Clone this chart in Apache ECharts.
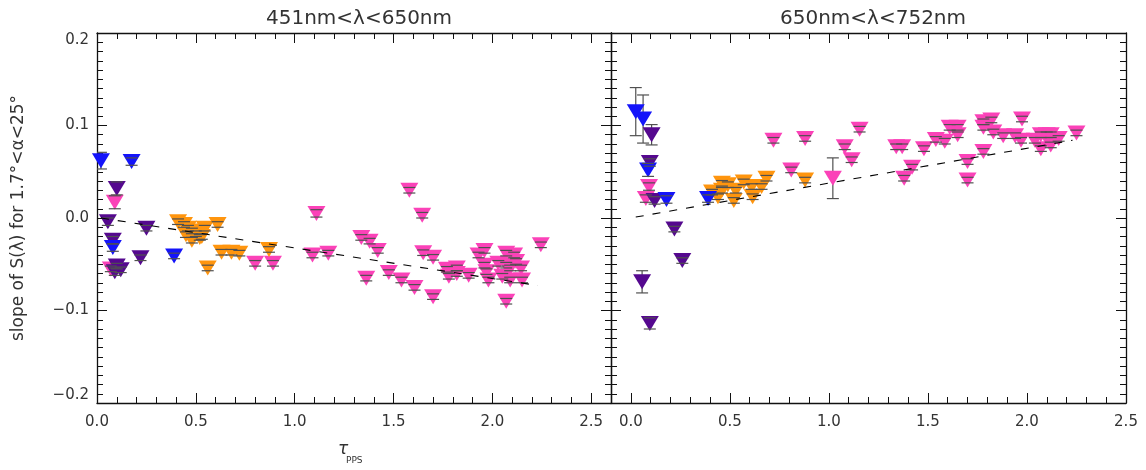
<!DOCTYPE html>
<html><head><meta charset="utf-8">
<script src="https://cdn.jsdelivr.net/npm/echarts@6/dist/echarts.min.js"></script>
<style>html,body{margin:0;padding:0;background:#fff}#c{width:1146px;height:470px}</style>
</head><body><div id="c"></div>
<script>
// ---------------- data ----------------
const panelTitles = ['451nm<λ<650nm', '650nm<λ<752nm'];
const yAxisTitle = 'slope of S(λ) for 1.7°<α<25°';
const xRanges = [[0, 2.6], [-0.1, 2.5]];
const xMajorTicks = [0, 0.5, 1.0, 1.5, 2.0, 2.5];
const yRange = [-0.2, 0.2];

// each point: [tau_PPS, slope, error]
const blueL = [[0.02,0.062,0.009],[0.175,0.061,0.004],[0.08,-0.032,0.004],[0.39,-0.041,0.003]];
const purpleL = [[0.10,0.032,0.007],[0.055,-0.004,0.004],[0.25,-0.011,0.003],[0.08,-0.024,0.004],
  [0.09,-0.058,0.004],[0.12,-0.056,0.003],[0.22,-0.043,0.003],[0.10,-0.052,0.003]];
const pinkL = [[0.09,0.017,0.007],[0.07,-0.055,0.003],[0.80,-0.049,0.003],[0.89,-0.049,0.003],
  [1.11,0.005,0.004],[1.09,-0.040,0.003],[1.17,-0.038,0.003],
  [1.58,0.030,0.003],[1.645,0.003,0.003],[1.337,-0.021,0.003],[1.379,-0.025,0.003],[1.42,-0.035,0.003],
  [1.362,-0.065,0.003],[1.476,-0.059,0.003],[1.54,-0.067,0.003],[1.606,-0.075,0.003],[1.65,-0.0375,0.003],
  [1.70,-0.0425,0.003],[1.70,-0.085,0.003],[1.77,-0.0555,0.003],[1.82,-0.054,0.003],[1.78,-0.063,0.003],
  [1.82,-0.060,0.003],[1.88,-0.062,0.003],[1.93,-0.040,0.003],[1.96,-0.035,0.003],[1.96,-0.051,0.003],
  [1.97,-0.058,0.003],[1.98,-0.067,0.003],[2.03,-0.049,0.003],[2.07,-0.038,0.003],[2.11,-0.040,0.003],
  [2.05,-0.063,0.003],[2.09,-0.054,0.003],[2.09,-0.067,0.003],[2.145,-0.054,0.003],[2.15,-0.067,0.003],
  [2.07,-0.090,0.003],[2.245,-0.029,0.003],[2.07,-0.051,0.003],[2.12,-0.047,0.003]];
const orangeL = [[0.41,-0.004,0.003],[0.44,-0.007,0.003],[0.46,-0.011,0.003],[0.48,-0.014,0.003],
  [0.50,-0.017,0.003],[0.45,-0.018,0.003],[0.52,-0.021,0.003],[0.48,-0.024,0.003],[0.545,-0.011,0.003],
  [0.61,-0.007,0.003],[0.53,-0.020,0.003],[0.56,-0.054,0.003],[0.63,-0.037,0.003],[0.68,-0.037,0.003],
  [0.72,-0.038,0.003],[0.87,-0.034,0.003]];

const blueR = [[0.025,0.115,0.026],[0.062,0.107,0.026],[0.087,0.052,0.007],[0.18,0.020,0.004],[0.39,0.021,0.004]];
const purpleR = [[0.105,0.090,0.011],[0.096,0.060,0.004],[0.12,0.019,0.004],[0.22,-0.012,0.003],
  [0.26,-0.046,0.003],[0.057,-0.069,0.012],[0.096,-0.114,0.006]];
const pinkR = [[0.092,0.034,0.004],[0.076,0.021,0.004],[0.72,0.084,0.003],[0.88,0.086,0.003],[0.81,0.052,0.003],
  [1.02,0.043,0.022],[1.08,0.077,0.003],[1.115,0.063,0.003],[1.155,0.096,0.003],
  [1.34,0.077,0.003],[1.37,0.077,0.003],[1.48,0.075,0.003],[1.38,0.043,0.003],[1.42,0.055,0.003],
  [1.54,0.085,0.003],[1.585,0.083,0.003],[1.61,0.098,0.003],[1.65,0.098,0.003],[1.65,0.090,0.003],
  [1.70,0.061,0.003],[1.70,0.041,0.003],[1.78,0.072,0.003],[1.78,0.104,0.003],[1.82,0.106,0.003],
  [1.78,0.098,0.003],[1.83,0.093,0.003],[1.88,0.089,0.003],[1.94,0.089,0.003],[1.97,0.084,0.003],
  [1.975,0.107,0.003],[2.04,0.084,0.003],[2.07,0.090,0.003],[2.10,0.090,0.003],[2.12,0.090,0.003],
  [2.16,0.086,0.003],[2.07,0.075,0.003],[2.12,0.079,0.003],[2.25,0.092,0.003]];
const orangeR = [[0.41,0.028,0.003],[0.44,0.023,0.003],[0.46,0.0375,0.003],[0.49,0.036,0.003],[0.46,0.030,0.003],
  [0.52,0.019,0.003],[0.53,0.030,0.003],[0.57,0.039,0.003],[0.61,0.034,0.003],[0.615,0.023,0.003],
  [0.66,0.034,0.003],[0.685,0.043,0.003],[0.88,0.041,0.003]];

const fitL = [[0.02, 0.0], [2.23, -0.073]];
const fitR = [[0.025, 0.001], [2.23, 0.084]];

const colors = { blue: '#1414fa', purple: '#55088f', pink: '#fb42b8', orange: '#ff950e' };
const panels = [
  { sets: [['pink', pinkL], ['orange', orangeL], ['purple', purpleL], ['blue', blueL]], fit: fitL },
  { sets: [['pink', pinkR], ['orange', orangeR], ['purple', purpleR], ['blue', blueR]], fit: fitR }
];

// ---------------- chart ----------------
const FONT = 'DejaVu Sans';
const AX = '#111';
const grids = [
  { left: 97, top: 33, width: 514, height: 370 },
  { left: 611, top: 33, width: 515, height: 370 }
];

function minorList(r) {
  const out = [];
  for (let v = Math.round(r[0] * 10); v <= Math.round(r[1] * 10); v++) out.push(v / 10);
  return out;
}

const xAxis = [], yAxis = [];
grids.forEach((g, gi) => {
  const r = xRanges[gi];
  const base = { type: 'value', gridIndex: gi, min: r[0], max: r[1], splitLine: { show: false } };
  const line = { show: true, onZero: false, lineStyle: { color: AX, width: 1.3 } };
  ['bottom', 'top'].forEach(pos => {
    xAxis.push(Object.assign({}, base, {
      position: pos, axisLine: line,
      axisTick: { show: true, inside: true, length: 10, customValues: xMajorTicks, lineStyle: { color: AX, width: 1 } },
      axisLabel: { show: pos === 'bottom', customValues: xMajorTicks, formatter: v => v.toFixed(1),
        margin: 12, fontSize: 15, color: '#333', fontFamily: FONT }
    }));
    xAxis.push(Object.assign({}, base, {
      position: pos, axisLine: { show: false, onZero: false },
      axisTick: { show: true, inside: true, length: 6, customValues: minorList(r), lineStyle: { color: AX, width: 1 } },
      axisLabel: { show: false }
    }));
  });
  ['left', 'right'].forEach(pos => {
    const y = {
      type: 'value', gridIndex: gi, min: yRange[0], max: yRange[1], interval: 0.1, position: pos,
      splitLine: { show: false }, axisLine: line,
      axisTick: { show: true, inside: true, length: 10, lineStyle: { color: AX, width: 1 } },
      minorTick: { show: true, splitNumber: 10, length: 6, lineStyle: { color: AX, width: 1 } },
      axisLabel: { show: gi === 0 && pos === 'left', margin: 8, fontSize: 15, color: '#333', fontFamily: FONT,
        verticalAlignMinLabel: 'bottom', verticalAlignMaxLabel: 'top',
        formatter: v => (v < -1e-9 ? '\u2212' : '') + Math.abs(v).toFixed(1) }
    };
    if (gi === 0 && pos === 'left') {
      y.name = yAxisTitle; y.nameLocation = 'middle'; y.nameGap = 70; y.nameRotate = 90;
      y.nameTextStyle = { fontSize: 17, color: '#333', fontFamily: FONT };
    }
    yAxis.push(y);
  });
});

function errBars(part) {
  return function (params, api) {
    const x = api.value(0), y = api.value(1), e = api.value(2);
    const hi = api.coord([x, y + e]), lo = api.coord([x, y - e]);
    const w = 6;
    const st = { stroke: '#505050', lineWidth: 1.2 };
    if (part === 'stem') {
      return { type: 'line', shape: { x1: hi[0], y1: hi[1], x2: lo[0], y2: lo[1] }, style: st };
    }
    return { type: 'group', children: [
      { type: 'line', shape: { x1: hi[0] - w, y1: hi[1], x2: hi[0] + w, y2: hi[1] }, style: st },
      { type: 'line', shape: { x1: lo[0] - w, y1: lo[1], x2: lo[0] + w, y2: lo[1] }, style: st }
    ] };
  };
}

const series = [];
panels.forEach((p, pi) => {
  const xi = pi * 4, yi = pi * 2;
  const all = [].concat(...p.sets.map(s => s[1]));
  series.push({ type: 'custom', xAxisIndex: xi, yAxisIndex: yi, data: all, z: 1, silent: true,
    renderItem: errBars('stem'), encode: { x: 0, y: 1 }, clip: true });
  p.sets.forEach(([name, data]) => {
    series.push({ type: 'scatter', xAxisIndex: xi, yAxisIndex: yi, name,
      data: data.map(d => [d[0], d[1]]), symbol: 'triangle', symbolRotate: 180, symbolSize: [18, 15],
      itemStyle: { color: colors[name], opacity: 1 }, z: 2, silent: true });
  });
  series.push({ type: 'custom', xAxisIndex: xi, yAxisIndex: yi, data: all, z: 3, silent: true,
    renderItem: errBars('caps'), encode: { x: 0, y: 1 }, clip: true });
  series.push({ type: 'line', xAxisIndex: xi, yAxisIndex: yi, data: p.fit, symbol: 'none', z: 4, silent: true,
    lineStyle: { color: '#000', width: 1.1, type: [8, 9] } });
});

const chart = echarts.init(document.getElementById('c'), null, { renderer: 'canvas' });
chart.setOption({
  animation: false,
  backgroundColor: '#fff',
  grid: grids,
  xAxis, yAxis, series,
  title: [
    { text: panelTitles[0], left: 354, top: 4, textAlign: 'center', textStyle: { fontSize: 20, fontWeight: 'normal', color: '#333', fontFamily: FONT } },
    { text: panelTitles[1], left: 868, top: 4, textAlign: 'center', textStyle: { fontSize: 20, fontWeight: 'normal', color: '#333', fontFamily: FONT } }
  ],
  graphic: [
    { type: 'text', left: 338, top: 441, style: { text: 'τ', font: 'italic 17px "' + FONT + '"', fill: '#333' } },
    { type: 'text', left: 346, top: 456, style: { text: 'PPS', font: '9px "' + FONT + '"', fill: '#333' } }
  ]
});
</script>
</body></html>
